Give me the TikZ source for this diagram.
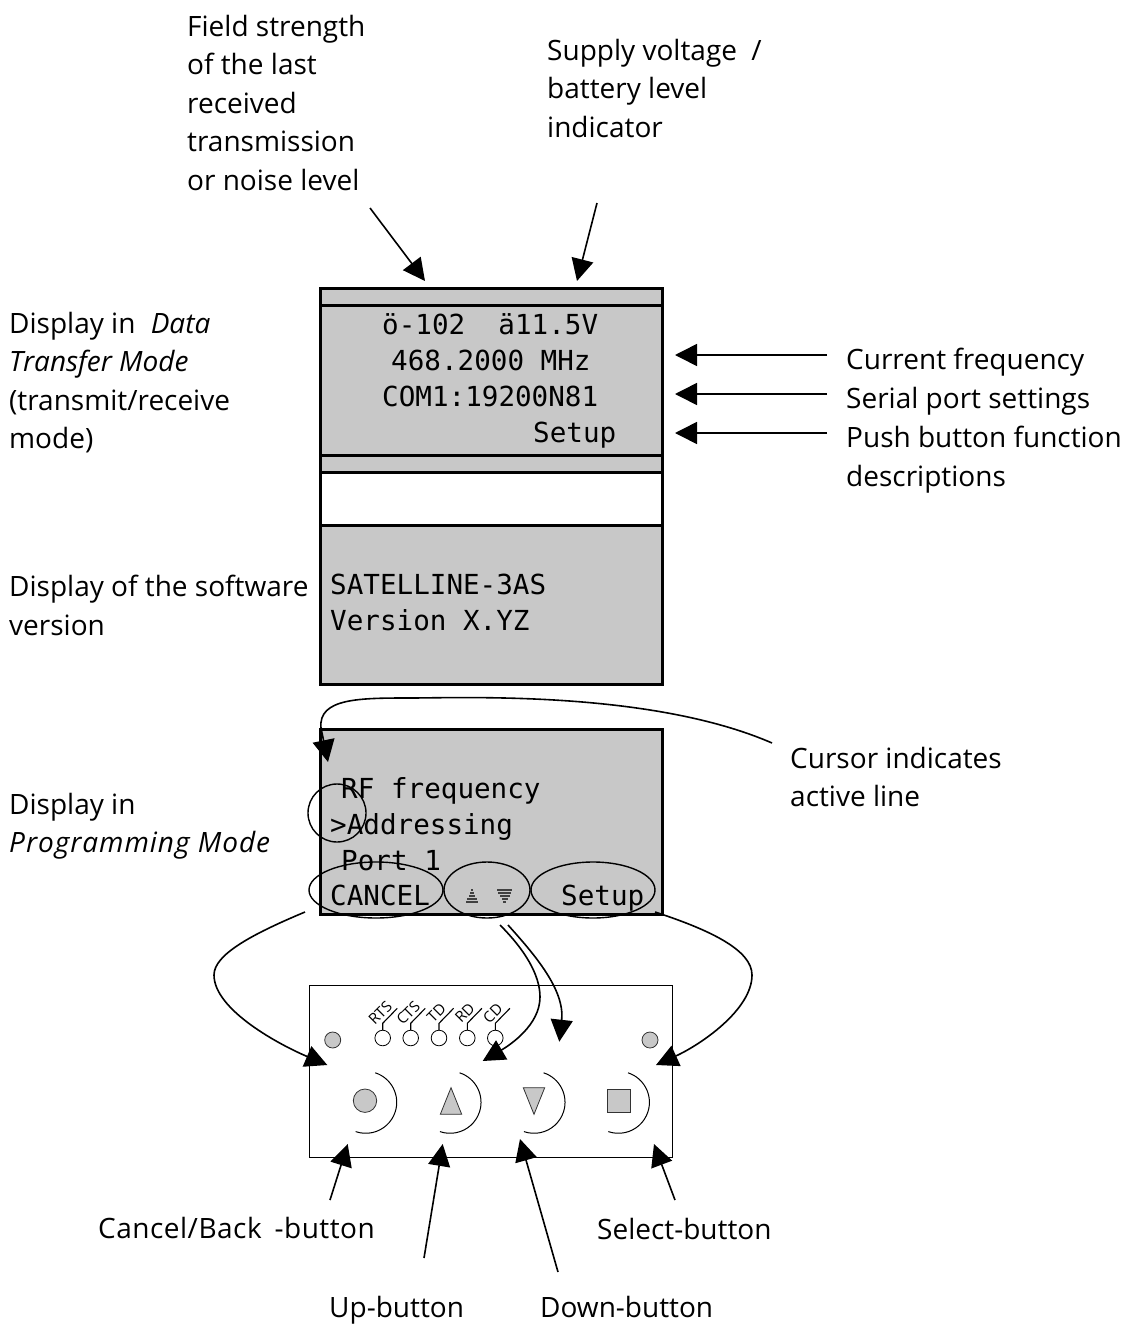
\documentclass[tikz,border=0pt]{standalone}
\usepackage{fontspec}
\setmainfont{Open Sans}
\newfontfamily\lcdfont{DejaVu Sans Mono}
\usetikzlibrary{arrows.meta}
\definecolor{lcd}{HTML}{C8C8C8}
\tikzset{
  lbl/.style={inner sep=0pt,align=left,anchor=north west,font=\fontsize{28}{38.5}\selectfont},
  lblone/.style={inner sep=0pt,anchor=base west,font=\fontsize{28}{38.5}\selectfont},
  lcdtext/.style={inner sep=0pt,anchor=base west,font=\lcdfont\fontsize{27.6}{36}\selectfont},
  lcdbox/.style={draw=black,fill=lcd,line width=3pt},
  pointer/.style={line width=1.6pt,-{Triangle[length=22pt,width=22pt]}},
  marker/.style={draw=black,line width=1.4pt},
  panel/.style={draw=black,line width=1pt},
  keyshape/.style={draw=black!80,fill=lcd,line width=0.8pt},
  bracket/.style={draw=black,line width=1pt},
  ledname/.style={inner sep=0pt,rotate=45,font=\fontsize{15}{16}\selectfont},
}
\begin{document}
\begin{tikzpicture}[x=1pt,y=-1pt]
\useasboundingbox (0,0) rectangle (1120,1325);
% displays
\fill[lcd] (320,288) rectangle (662,472);
\fill[lcd] (320,525) rectangle (662,684);
\draw[line width=3pt] (320,288) rectangle (662,684);
\foreach \yy in {305,455,472,525} \draw[line width=3pt] (320,\yy) -- (662,\yy);
\node[lcdbox,minimum width=342pt,minimum height=185pt,inner sep=0pt] (prog) at (491,821.5) {};
% labels
\node[lbl] (field) at (187,15) {Field strength\\of the last\\received\\transmission\\or noise level};
\node[lbl] (supply) at (547,39) {Supply voltage\hspace{7pt} /\\battery level\\indicator};
\node[lbl] (datamode) at (9,312) {Display in\hspace{8pt} \textit{Data}\\\textit{Transfer Mode}\\(transmit/receive\\mode)};
\node[lblone] (curfreq) at (846,369) {Current frequency};
\node[lblone] (serial) at (846,408) {Serial port settings};
\node[lbl] (push) at (846,426) {Push button function\\descriptions};
\node[lbl] (softver) at (9,575) {Display of the software\\version};
\node[lbl] (progmode) at (9,793) {Display in\\{\itshape\addfontfeatures{LetterSpace=3.5}Programming Mode}};
\node[lbl] (cursorlbl) at (790,747) {Cursor indicates\\active line};
\node[lblone] (cancellbl) at (98,1238) {\addfontfeatures{LetterSpace=1.8}Cancel/Back\hspace{5pt} -button};
\node[lblone] (selectlbl) at (597,1239) {Select-button};
\node[lblone] (uplbl) at (329,1317) {Up-button};
\node[lblone] (downlbl) at (540,1317) {Down-button};
% lcd text
\node[lcdtext] (l1) at (382,334) {ö-102\hspace{33.2pt}ä11.5V};
\node[lcdtext] (l2) at (391,370) {468.2000 MHz};
\node[lcdtext] (l3) at (382,406) {COM1:19200N81};
\node[lcdtext] (l4) at (533,442) {Setup};
\node[lcdtext] (v1) at (330,594) {SATELLINE-3AS};
\node[lcdtext] (v2) at (330,630) {Version X.YZ};
\node[lcdtext] (p1) at (341,798) {RF frequency};
\node[lcdtext] (p2) at (330,834) {>Addressing};
\node[lcdtext] (p3) at (341,870) {Port 1};
\node[lcdtext] (p4) at (330,905) {CANCEL};
\node[lcdtext] (p5) at (561,905) {Setup};
% pixel arrows
\foreach \yy/\a/\b in {889/470.5/473,892/469.5/474,895/468.5/475,898/467/476.5,901/465.5/478}{
  \fill[black!75] (\a,\yy) rectangle (\b,\yy+2.4);}
\foreach \yy/\a/\b in {888.5/497/512,891.5/498/511,894.5/499.5/509.5,897.5/501.5/507.5,900.5/503/506}{
  \fill[black!75] (\a,\yy) rectangle (\b,\yy+2.4);}
% markers
\draw[marker] (337,813) circle (29);
\draw[marker] (376,890) ellipse (67 and 28);
\draw[marker] (487,890) ellipse (43 and 28);
\draw[marker] (593,890) ellipse (62 and 28);
% panel
\node[panel,minimum width=362.5pt,minimum height=172pt,inner sep=0pt] (front) at (490.75,1071) {};
\draw[keyshape] (332.7,1040) circle (8);
\draw[keyshape] (650,1040) circle (8);
\foreach \xx/\nm in {382.7/RTS,410.7/CTS,439/TD,467.3/RD,495.3/CD}{
  \draw[line width=0.8pt] (\xx,1038) circle (7.8);
  \draw[line width=1.1pt] (\xx,1030.2) -- (\xx,1023.3) -- (\xx+14.6,1008.3);
  \node[ledname] at (\xx-2.5,1013) {\nm};
}
\draw[keyshape] (365,1100.7) circle (11.7);
\draw[keyshape] (451,1087.7) -- (440.3,1114.3) -- (461.7,1114.3) -- cycle;
\draw[keyshape] (523.3,1087.7) -- (544.7,1087.7) -- (534,1114.3) -- cycle;
\draw[keyshape] (607.3,1089.7) rectangle (630,1112.3);
\foreach \dx in {0,84.3,168.3,252.7}{
  \draw[bracket] (375.3+\dx,1072.8) arc[start angle=-72,end angle=109,radius=31];
}
% coordinates for connector ends
\coordinate (a1s) at (370,208); \coordinate (a1e) at (425,281);
\coordinate (a2s) at (597,203); \coordinate (a2e) at (577,281);
\coordinate (a3s) at (827,355); \coordinate (a3e) at (675,355);
\coordinate (a4s) at (827,394); \coordinate (a4e) at (675,394);
\coordinate (a5s) at (827,433); \coordinate (a5e) at (675,433);
\coordinate (cs) at (772,743); \coordinate (ce) at (328,762);
\coordinate (ls) at (305,912); \coordinate (le) at (327.3,1065);
\coordinate (rs) at (655,912); \coordinate (re) at (656,1065);
\coordinate (ms) at (500,925); \coordinate (me) at (482.7,1061);
\coordinate (ns) at (508,925); \coordinate (ne) at (559.3,1041.7);
\coordinate (b1s) at (330,1200); \coordinate (b1e) at (347.7,1144);
\coordinate (b2s) at (424,1258); \coordinate (b2e) at (442.7,1144);
\coordinate (b3s) at (558,1272); \coordinate (b3e) at (520,1139);
\coordinate (b4s) at (675,1200); \coordinate (b4e) at (654,1144);
% connectors
\draw[pointer] (a1s) -- (a1e);
\draw[pointer] (a2s) -- (a2e);
\draw[pointer] (a3s) -- (a3e);
\draw[pointer] (a4s) -- (a4e);
\draw[pointer] (a5s) -- (a5e);
\draw[pointer] (cs) .. controls (650,690) and (460,698) .. (410,698) .. controls (360,698) and (318,698) .. (321,728) -- (ce);
\draw[pointer] (ls) .. controls (250,935) and (214,955) .. (214,975) .. controls (214,1010) and (280,1045) .. (le);
\draw[pointer] (rs) .. controls (710,930) and (752,950) .. (752,975) .. controls (752,1010) and (700,1045) .. (re);
\draw[pointer] (ms) .. controls (525,950) and (540,975) .. (540,997) .. controls (540,1025) and (510,1045) .. (me);
\draw[pointer] (ns) .. controls (535,955) and (565,990) .. (ne);
\draw[pointer] (b1s) -- (b1e);
\draw[pointer] (b2s) -- (b2e);
\draw[pointer] (b3s) -- (b3e);
\draw[pointer] (b4s) -- (b4e);
\end{tikzpicture}
\end{document}
